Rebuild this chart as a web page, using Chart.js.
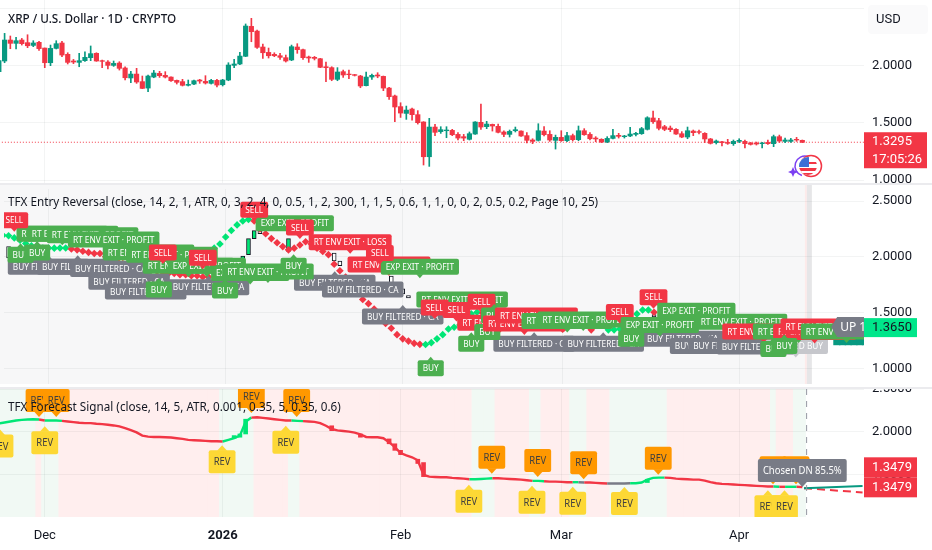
<!DOCTYPE html>
<html>
<head>
<meta charset="utf-8">
<title>XRP / U.S. Dollar</title>
<script src="https://cdn.jsdelivr.net/npm/chart.js@4/dist/chart.umd.min.js"></script>
<style>
    body { margin: 0; background: #ffffff; width: 932px; height: 550px; overflow: hidden; position: relative; }
    canvas { position: absolute; left: 0; }
    .sep { position: absolute; left: 0; width: 932px; height: 2px; background: #ebebee; }
</style>
</head>
<body>
<canvas id="pricePane" width="932" height="183" style="top:0"></canvas>
<div class="sep" style="top:183px"></div>
<canvas id="entryPane" width="932" height="203" style="top:185px"></canvas>
<div class="sep" style="top:387px"></div>
<canvas id="forecastPane" width="932" height="161" style="top:389px"></canvas>
<script>
/** Data, days are counted from 1 Dec 2025 **/

const monthDays = [0, 31, 62, 90, 121];
const monthNames = ["Dec", "2026", "Feb", "Mar", "Apr"];

const firstCandleDay = -8;
const candleOpen = [1.945,2.038,2.221,2.192,2.221,2.198,2.174,2.201,2.151,2.023,2.148,2.195,2.096,2.038,2.026,2.041,2.067,2.105,2.041,2.029,2.000,2.020,1.977,1.890,1.924,1.858,1.802,1.898,1.930,1.913,1.898,1.869,1.858,1.826,1.837,1.872,1.860,1.843,1.869,1.831,1.872,2.000,2.012,2.079,2.340,2.299,2.160,2.113,2.096,2.084,2.067,2.047,2.160,2.137,2.073,2.070,2.058,1.988,1.980,1.878,1.945,1.924,1.919,1.907,1.823,1.898,1.916,1.904,1.802,1.733,1.640,1.581,1.619,1.570,1.506,1.203,1.462,1.422,1.430,1.433,1.398,1.378,1.355,1.401,1.503,1.465,1.485,1.468,1.419,1.398,1.430,1.427,1.387,1.349,1.346,1.427,1.398,1.346,1.372,1.343,1.387,1.352,1.430,1.398,1.366,1.355,1.331,1.363,1.390,1.378,1.384,1.398,1.404,1.442,1.541,1.517,1.465,1.453,1.442,1.404,1.375,1.427,1.422,1.407,1.358,1.326,1.334,1.328,1.317,1.337,1.337,1.323,1.323,1.317,1.328,1.317,1.378,1.337,1.337,1.355,1.346];
const candleHigh = [2.061,2.279,2.256,2.244,2.235,2.267,2.215,2.209,2.151,2.177,2.215,2.209,2.110,2.052,2.105,2.119,2.169,2.110,2.047,2.041,2.038,2.032,1.988,1.948,1.974,1.907,1.916,1.956,1.948,1.945,1.901,1.872,1.878,1.872,1.872,1.878,1.910,1.878,1.878,1.878,2.023,2.052,2.113,2.361,2.410,2.308,2.186,2.151,2.110,2.105,2.090,2.177,2.189,2.143,2.081,2.078,2.061,2.029,1.988,1.980,1.959,1.959,1.922,1.913,1.942,1.924,1.936,1.907,1.808,1.741,1.674,1.645,1.628,1.605,1.509,1.538,1.485,1.465,1.465,1.442,1.413,1.398,1.419,1.509,1.663,1.512,1.488,1.488,1.430,1.436,1.462,1.430,1.413,1.360,1.491,1.465,1.430,1.392,1.430,1.416,1.401,1.471,1.448,1.413,1.378,1.360,1.378,1.442,1.407,1.390,1.459,1.416,1.459,1.552,1.602,1.538,1.477,1.471,1.448,1.422,1.462,1.436,1.436,1.413,1.363,1.349,1.337,1.355,1.349,1.360,1.349,1.328,1.331,1.328,1.349,1.392,1.392,1.366,1.363,1.372,1.349];
const candleLow = [1.942,2.023,2.145,2.143,2.177,2.154,2.163,2.131,1.980,1.997,2.143,2.076,2.012,2.015,1.988,2.035,2.041,2.035,1.980,1.968,1.991,1.959,1.872,1.849,1.843,1.797,1.770,1.892,1.895,1.890,1.860,1.837,1.820,1.820,1.831,1.843,1.837,1.837,1.811,1.820,1.866,1.980,2.006,2.076,2.206,2.148,2.061,2.064,2.076,2.052,2.029,2.041,2.105,2.052,2.026,2.047,1.980,1.858,1.866,1.866,1.895,1.884,1.907,1.805,1.820,1.878,1.892,1.779,1.703,1.509,1.546,1.529,1.523,1.488,1.131,1.119,1.387,1.407,1.369,1.387,1.349,1.343,1.349,1.398,1.442,1.448,1.427,1.410,1.378,1.375,1.419,1.381,1.323,1.317,1.340,1.384,1.337,1.270,1.337,1.334,1.340,1.343,1.390,1.349,1.334,1.326,1.326,1.358,1.366,1.366,1.378,1.384,1.398,1.436,1.494,1.436,1.430,1.422,1.398,1.369,1.360,1.387,1.401,1.326,1.314,1.314,1.297,1.311,1.302,1.326,1.279,1.305,1.305,1.279,1.311,1.291,1.328,1.326,1.328,1.337,1.326];
const candleClose = [2.041,2.221,2.192,2.215,2.189,2.171,2.195,2.146,2.023,2.148,2.189,2.090,2.026,2.029,2.041,2.070,2.102,2.038,2.035,2.000,2.017,1.974,1.892,1.924,1.855,1.799,1.907,1.933,1.910,1.898,1.866,1.852,1.826,1.834,1.866,1.863,1.846,1.869,1.828,1.872,2.003,2.012,2.081,2.343,2.294,2.157,2.110,2.084,2.084,2.070,2.038,2.163,2.137,2.067,2.064,2.061,1.983,1.980,1.878,1.942,1.916,1.919,1.913,1.820,1.898,1.913,1.907,1.802,1.727,1.637,1.584,1.610,1.570,1.500,1.203,1.462,1.416,1.439,1.436,1.395,1.366,1.366,1.404,1.506,1.462,1.488,1.471,1.416,1.398,1.424,1.439,1.384,1.346,1.337,1.430,1.395,1.349,1.372,1.343,1.387,1.352,1.430,1.395,1.360,1.358,1.331,1.363,1.387,1.381,1.384,1.401,1.407,1.448,1.543,1.509,1.451,1.442,1.439,1.401,1.375,1.430,1.413,1.416,1.358,1.320,1.340,1.326,1.320,1.337,1.346,1.317,1.311,1.314,1.323,1.317,1.378,1.340,1.349,1.349,1.349,1.329];
const lastPrice = 1.3295;
const priceCountdown = "17:05:26";

// signal markers in the middle pane
const trendDays = [-8,-7,-6,-5,-4,-3,-2,-1,0,1,2,3,4,5,6,7,8,9,10,11,12,13,14,15,16,17,18,19,20,21,22,23,24,25,26,27,28,29,30,31,32,33,34,35,36,37,38,39,40,41,42,43,44,45,46,47,48,49,50,51,52,53,54,55,56,57,58,59,60,61,62,63,64,65,66,67,68,69,70,71,72,73,74,75,76,77,78,80,85,90,95,98,99,100,101,102,103,104,105,106,110,115,120,125,130,132];
const trendValues = [2.193,2.19,2.17,2.15,2.12,2.10,2.08,2.08,2.08,2.078,2.08,2.08,2.07,2.063,2.05,2.04,2.03,2.03,2.0,1.98,1.96,1.94,1.93,1.92,1.90,1.89,1.88,1.87,1.86,1.85,1.85,1.84,1.84,1.83,1.83,1.82,1.82,2.078,2.115,2.178,2.236,2.287,2.322,2.336,2.322,2.25,2.207,2.164,2.126,2.092,2.063,2.078,2.106,2.135,2.115,2.078,2.049,2.02,1.934,1.876,1.819,1.747,1.675,1.618,1.58,1.532,1.474,1.402,1.359,1.302,1.264,1.244,1.224,1.215,1.213,1.23,1.264,1.302,1.353,1.368,1.388,1.445,1.488,1.503,1.494,1.46,1.445,1.43,1.373,1.35,1.345,1.345,1.345,1.353,1.388,1.431,1.488,1.523,1.523,1.503,1.46,1.402,1.359,1.345,1.345,1.345];
const trendRuns = [["u",12],["d",25],["u",7],["d",30],["u",10],["d",7],["u",8],["d",7]];

// candles that stick out from under the labels of the middle pane
const hollowDays = [-7,34,35,36,37,42,50,51,60,62,63,99,106];
const hollowOpen = [1.991,1.934,2.02,2.164,2.236,2.049,2.034,1.963,1.828,1.713,1.652,1.353,1.483];
const hollowClose = [2.092,2.006,2.164,2.236,2.207,2.164,1.963,1.92,1.718,1.667,1.632,1.345,1.46];
const hollowStates = ["d","u","u","u","d","u","d","d","d","d","d","d","d"];

const cloudDays = [137,138,139,140,141,142,143];
const cloudLow = [1.27,1.21,1.21,1.21,1.21,1.21,1.21];
const cloudHigh = [1.30,1.27,1.26,1.26,1.26,1.26,1.26];
const entryLastValue = 1.3650;

const exitProfit = "RT ENV EXIT \u00b7 PROFIT";
const exitExpiry = "EXP EXIT \u00b7 PROFIT";
const exitLoss = "RT ENV EXIT \u00b7 LOSS";
const filtered = "BUY FILTERED \u00b7 CA";

// labels of the middle pane, listed from the bottom layer to the top one
const labelDays = [0,5.1,10.9,14.1,17,28,50.1,55,62,85,97.1,111,115.9,119.1,124.1,130.8,
    2.4,4.2,7.7,11.4,17.5,21.6,24.5,27.7,35.3,38.4,43.1,52.8,59.6,65,
    -4.9,-2,19.3,30.9,42.9,66.9,
    -6,20,27,36,44,58,
    72.4,67.6,71.4,75.8,78.8,76.8,74,78,83.3,85.4,90.8,93.6,100,107,102,105.9,113.4,121.3,125.2,131.3,134.1,135.4,139.7,126.9,128.8];
const labelPrices = [1.911,1.911,1.891,1.776,1.69,1.727,1.767,1.707,1.465,1.221,1.221,1.264,1.201,1.201,1.195,1.201,
    2.207,2.207,2.193,2.155,2.04,2.02,1.92,1.92,1.856,1.868,2.302,2.132,1.931,1.911,
    2.02,2.04,1.707,1.698,1.92,1.0,
    2.328,2.04,1.991,2.422,2.264,2.034,
    1.618,1.546,1.523,1.598,1.408,1.325,1.221,1.474,1.402,1.474,1.425,1.437,1.506,1.388,1.264,1.638,1.517,1.417,1.33,1.33,1.325,1.374,1.33,1.172,1.201];
const labelTexts = [filtered,filtered,filtered,filtered,filtered,filtered,filtered,filtered,filtered,filtered,filtered,filtered,filtered,filtered,filtered,"FILTERED BUY",
    exitProfit,exitProfit,exitProfit,exitProfit,exitProfit,exitProfit,exitProfit,exitExpiry,exitExpiry,exitProfit,exitExpiry,exitLoss,exitLoss,exitExpiry,
    "BUY","BUY","BUY","BUY","BUY","BUY",
    "SELL","SELL","SELL","SELL","SELL","SELL",
    exitProfit,"SELL","SELL","SELL",exitLoss,"BUY","BUY","BUY",exitLoss,exitLoss,exitProfit,exitProfit,"SELL",exitExpiry,"BUY","SELL",exitExpiry,exitProfit,exitLoss,exitProfit,exitLoss,exitLoss,exitProfit,"BUY","BUY"];
const upDay = 137;
const upValue = 1.371;
const upText = "UP 100%";

// forecast pane
const forecastValues = [2.096,2.108,2.119,2.131,2.138,2.142,2.146,2.142,2.131,2.131,2.131,2.127,2.119,2.112,2.104,2.1,2.1,2.092,2.088,2.081,2.073,2.062,2.042,2.019,1.992,1.954,1.942,1.938,1.938,1.935,1.931,1.923,1.915,1.904,1.9,1.896,1.892,1.888,1.888,1.885,1.904,1.923,1.954,2.115,2.165,2.169,2.162,2.154,2.146,2.138,2.131,2.131,2.127,2.123,2.119,2.115,2.1,2.069,2.031,2.015,2.008,2.0,1.988,1.969,1.938,1.935,1.935,1.923,1.877,1.819,1.75,1.723,1.7,1.665,1.492,1.473,1.469,1.465,1.465,1.458,1.454,1.45,1.442,1.442,1.446,1.45,1.454,1.454,1.45,1.446,1.442,1.438,1.431,1.423,1.423,1.419,1.415,1.415,1.412,1.408,1.408,1.408,1.404,1.404,1.4,1.396,1.392,1.392,1.392,1.392,1.396,1.396,1.404,1.438,1.458,1.462,1.462,1.458,1.45,1.446,1.442,1.438,1.438,1.427,1.408,1.396,1.388,1.385,1.381,1.377,1.373,1.369,1.365,1.362,1.358,1.358,1.354,1.354,1.354,1.354,1.35];
const forecastRuns = [["u",7],["d",1],["u",3],["d",28],["u",5],["d",7],["u",2],["d",29],["u",4],["d",7],["u",2],["d",5],["u",1],["n",1],["d",4],["n",4],["u",6],["d",19],["u",1],["d",1],["u",2],["d",2]];
const stepDays = [33,34,35,50,55,60,61,62,65,66,105];
const stepFrom = [1.923,1.935,1.973,2.012,1.935,1.858,1.781,1.731,1.627,1.473,1.404];
const stepTo = [1.954,1.973,2.146,2.069,1.973,1.915,1.858,1.781,1.677,1.638,1.442];
const stepStates = ["u","u","u","d","d","d","d","d","d","d","u"];
const bandRuns = [["u",7],["d",1],["u",3],["d",28],["u",6],["d",6],["u",2],["d",30],["u",4],["d",6],["u",2],["d",5],["u",3],["d",4],["u",10],["d",18],["u",1],["d",3],["u",2]];
const projectionDays = [132.3, 142.5];
const projectionUp = [1.338, 1.362];
const projectionDown = [1.338, 1.288];
const forecastLastValue = 1.3479;

const orangeDays = [-1,2,36,43.9,77.9,85.9,93.9,106.9,126.9,130.9];
const orangePrices = [2.365,2.365,2.412,2.365,1.7,1.662,1.635,1.688,1.577,1.577];
const yellowDays = [-7.8,0,30.9,42,73.9,84.9,92,101,126,128.9];
const yellowPrices = [1.831,1.869,1.646,1.877,1.185,1.173,1.162,1.158,1.119,1.119];
const chosenDay = 132;
const chosenPrice = 1.546;
const chosenText = "Chosen DN 85.5%";

/** Colors **/

const red_color = "#f23645";
const teal_color = "#089981";
const mint_color = "#00e676";
const label_green = "#4caf50";
const label_grey = "#787b86";
const grid_color = "rgba(42, 46, 57, 0.055)";

const ui_font = '"Noto Sans"';
const axis_font = 'Roboto';

// the text of the reference is a bit narrower than the installed fonts
const narrow_text = 0.9;

/** Functions **/

function expand_runs(runs) {
    let states = [];
    runs.forEach(function(run) {
        for(let i = 0; i < run[1]; i++) states.push(run[0]);
    });
    return states;
}

const trendStates = expand_runs(trendRuns);
const forecastStates = expand_runs(forecastRuns);
const bandStates = expand_runs(bandRuns);

function candle_color(open, close) {
    return close >= open ? teal_color : red_color;
}

function state_color(state) {
    if(state === "u") return mint_color;
    if(state === "d") return red_color;
    return label_grey;
}

function label_color(text) {
    if(text === "SELL" || text === exitLoss) return red_color;
    if(text === filtered) return label_grey;
    if(text === "FILTERED BUY") return "#c6c7cc";
    return label_green;
}

function narrow_text_at(ctx, text, x, y) {
    ctx.save();
    ctx.translate(x, y);
    ctx.scale(narrow_text, 1);
    ctx.fillText(text, 0, 0);
    ctx.restore();
}

/**
 * Draw a filled box with its text, the tip goes "u"p or "d"own from the box.
 */
function draw_callout(ctx, cx, cy, text, color, text_color, font, box_h, tip, dir) {
    ctx.font = font;
    const w = ctx.measureText(text).width * narrow_text + 10;
    const x = cx - w / 2, y = cy - box_h / 2;
    ctx.fillStyle = color;
    ctx.beginPath();
    ctx.roundRect(x, y, w, box_h, 2);
    ctx.fill();
    ctx.beginPath();
    if(dir === "u") {
        ctx.moveTo(cx - tip, y + 0.5); ctx.lineTo(cx, y - tip); ctx.lineTo(cx + tip, y + 0.5);
    } else if(dir === "d") {
        ctx.moveTo(cx - tip, y + box_h - 0.5); ctx.lineTo(cx, y + box_h + tip); ctx.lineTo(cx + tip, y + box_h - 0.5);
    }
    ctx.fill();
    ctx.fillStyle = text_color;
    ctx.textAlign = "center";
    ctx.textBaseline = "middle";
    narrow_text_at(ctx, text, cx, cy + 0.5);
}

function draw_tag(ctx, y0, h, w, color, text_color, lines) {
    ctx.fillStyle = color;
    ctx.fillRect(864, y0, w, h);
    ctx.fillStyle = text_color;
    ctx.font = "13px " + axis_font;
    ctx.textAlign = "left";
    ctx.textBaseline = "middle";
    lines.forEach(function(line, i) {
        ctx.fillText(line, 872, y0 + (h / lines.length) * (i + 0.5) + 0.5);
    });
}

function draw_title(ctx, text, y, font) {
    ctx.font = font;
    ctx.fillStyle = "#131722";
    ctx.textAlign = "left";
    ctx.textBaseline = "middle";
    narrow_text_at(ctx, text, 8, y);
}

function clip_area(chart) {
    const a = chart.chartArea;
    chart.ctx.beginPath();
    chart.ctx.rect(a.left, a.top, a.right - a.left, a.bottom - a.top);
    chart.ctx.clip();
}

function draw_badge(ctx) {
    const cx = 808, cy = 166;
    ctx.strokeStyle = "#7b3ff2";
    ctx.lineWidth = 1.5;
    ctx.beginPath();
    ctx.arc(cx - 3, cy, 10, 0.6 * Math.PI, 1.6 * Math.PI);
    ctx.stroke();
    ctx.strokeStyle = red_color;
    ctx.lineWidth = 1.5;
    ctx.beginPath();
    ctx.arc(cx + 3, cy, 10.5, 0, 2 * Math.PI);
    ctx.stroke();
    ctx.fillStyle = "#ffffff";
    ctx.beginPath();
    ctx.arc(cx, cy, 9, 0, 2 * Math.PI);
    ctx.fill();
    ctx.save();
    ctx.beginPath();
    ctx.arc(cx, cy, 9, 0, 2 * Math.PI);
    ctx.clip();
    ctx.fillStyle = red_color;
    ctx.fillRect(cx - 9, cy + 2, 18, 3);
    ctx.fillRect(cx - 9, cy + 7, 18, 3);
    ctx.fillRect(cx, cy - 4, 9, 2);
    ctx.fillStyle = "#3b6fd6";
    ctx.fillRect(cx - 9, cy - 9, 10, 10);
    ctx.restore();
    ctx.fillStyle = "#7b3ff2";
    ctx.beginPath();
    ctx.moveTo(793, 167); ctx.lineTo(794.5, 170.5); ctx.lineTo(798, 172); ctx.lineTo(794.5, 173.5);
    ctx.lineTo(793, 177); ctx.lineTo(791.5, 173.5); ctx.lineTo(788, 172); ctx.lineTo(791.5, 170.5);
    ctx.closePath();
    ctx.fill();
}

function create_pane(id, datasets, y_min, y_max, y_ticks, overlays, show_time) {
    return new Chart(document.getElementById(id), {
        type: "bar",
        data: { datasets: datasets },
        options: {
            responsive: false,
            animation: false,
            parsing: { xAxisKey: "x", yAxisKey: "y" },
            layout: { padding: 0 },
            plugins: { legend: { display: false }, tooltip: { enabled: false } },
            scales: {
                x: {
                    type: "linear",
                    min: -7.8,
                    max: 142.75,
                    offset: false,
                    afterBuildTicks: function(scale) {
                        scale.ticks = monthDays.map(function(v) { return { value: v }; });
                    },
                    afterFit: function(scale) {
                        scale.height = show_time ? 33 : 0;
                        scale.paddingLeft = 0;
                        scale.paddingRight = 0;
                    },
                    grid: { color: grid_color, offset: false, drawTicks: false, z: 1 },
                    border: { display: false },
                    ticks: {
                        display: show_time,
                        autoSkip: false,
                        maxRotation: 0,
                        padding: 11,
                        color: "#131722",
                        font: function(c) {
                            return { family: axis_font, size: 13, weight: c.tick && c.tick.value === 31 ? "bold" : "normal" };
                        },
                        callback: function(v) { return monthNames[monthDays.indexOf(v)]; }
                    }
                },
                y: {
                    type: "linear",
                    position: "right",
                    min: y_min,
                    max: y_max,
                    afterBuildTicks: function(scale) {
                        scale.ticks = y_ticks.map(function(v) { return { value: v }; });
                    },
                    afterFit: function(scale) {
                        scale.width = 68;
                        scale.paddingTop = 0;
                        scale.paddingBottom = 0;
                    },
                    grid: { color: grid_color, drawTicks: false, z: 1 },
                    border: { display: false },
                    ticks: {
                        padding: 8,
                        color: "#131722",
                        font: { family: axis_font, size: 13 },
                        callback: function(v) {
                            return id === "pricePane" && v === 2.5 ? "" : v.toFixed(4);
                        }
                    }
                }
            }
        },
        plugins: [overlays]
    });
}

/** Top pane, candles **/

const candle_bodies = candleOpen.map(function(o, i) {
    return { x: firstCandleDay + i, y: [o, candleClose[i]] };
});
const candle_wicks = candleLow.map(function(l, i) {
    return { x: firstCandleDay + i, y: [l, candleHigh[i]] };
});
const candle_colors = candleOpen.map(function(o, i) { return candle_color(o, candleClose[i]); });

create_pane("pricePane", [
    {
        type: "line", data: [{ x: -8, y: lastPrice }, { x: 143, y: lastPrice }],
        borderColor: red_color, borderWidth: 1, borderDash: [1, 2], pointRadius: 0, order: 3
    },
    { data: candle_wicks, backgroundColor: candle_colors, barThickness: 1, grouped: false, order: 2 },
    { data: candle_bodies, backgroundColor: candle_colors, barThickness: 4.5, grouped: false, order: 1 }
], 0.974, 2.57, [1, 1.5, 2, 2.5], {
    id: "priceOverlay",
    afterDraw: function(chart) {
        const ctx = chart.ctx;
        const y = chart.scales.y.getPixelForValue(lastPrice);
        draw_title(ctx, "XRP / U.S. Dollar \u00b7 1D \u00b7 CRYPTO", 19, "500 13px " + ui_font);
        ctx.fillStyle = "#fafafb";
        ctx.beginPath();
        ctx.roundRect(868, 5, 60, 29, 4);
        ctx.fill();
        ctx.fillStyle = "#131722";
        ctx.font = "13px " + axis_font;
        ctx.textAlign = "left";
        ctx.textBaseline = "middle";
        ctx.fillText("USD", 876, 20);
        draw_tag(ctx, y - 10, 36, 63, red_color, "#ffffff", [lastPrice.toFixed(4), priceCountdown]);
        draw_badge(ctx);
    }
}, false);

/** Middle pane, entry labels **/

create_pane("entryPane", [
    {
        data: cloudDays.map(function(d, i) { return { x: d, y: [cloudLow[i], cloudHigh[i]] }; }),
        backgroundColor: teal_color, barThickness: 6.5, grouped: false, order: 3
    },
    {
        data: hollowDays.map(function(d, i) { return { x: d, y: [hollowOpen[i], hollowClose[i]] }; }),
        backgroundColor: hollowStates.map(function(s) { return s === "u" ? mint_color : "#ffffff"; }),
        borderColor: "#131722", borderWidth: 1, borderSkipped: false,
        barThickness: 4, grouped: false, order: 2
    },
    {
        type: "line", showLine: false,
        data: trendDays.map(function(d, i) { return { x: d, y: trendValues[i] }; }),
        pointStyle: "rectRot", pointRadius: 3.8, pointBorderWidth: 0,
        pointBackgroundColor: trendStates.map(state_color), order: 1
    }
], 0.859, 2.609, [1, 1.5, 2, 2.5], {
    id: "entryOverlay",
    beforeDraw: function(chart) {
        const ctx = chart.ctx, a = chart.chartArea;
        const end_x = chart.scales.x.getPixelForValue(132.4);
        ctx.fillStyle = "#f7f7f8";
        ctx.fillRect(0, 0, end_x, a.bottom);
        ctx.fillStyle = "#fdeaea";
        ctx.fillRect(end_x, 0, 2, a.bottom);
        ctx.fillStyle = "#e6e6e8";
        ctx.fillRect(end_x + 2, 0, 5, a.bottom);
    },
    afterDraw: function(chart) {
        const ctx = chart.ctx, x = chart.scales.x, y = chart.scales.y;
        ctx.save();
        clip_area(chart);
        const font = "9.2px " + ui_font;
        labelTexts.forEach(function(text, i) {
            const cx = x.getPixelForValue(labelDays[i]), cy = y.getPixelForValue(labelPrices[i]);
            let dir = "d";
            if(text === "BUY" || text === filtered) dir = "u";
            draw_callout(ctx, cx, cy, text, label_color(text), "#ffffff", font, 16, 3.5, dir);
        });

        // the last value label, cut by the price scale
        const ux = x.getPixelForValue(upDay), uy = y.getPixelForValue(upValue);
        ctx.fillStyle = label_grey;
        ctx.beginPath();
        ctx.moveTo(ux, uy);
        ctx.lineTo(ux + 6, uy - 10);
        ctx.lineTo(870, uy - 10);
        ctx.lineTo(870, uy + 10);
        ctx.lineTo(ux + 6, uy + 10);
        ctx.closePath();
        ctx.fill();
        ctx.fillStyle = "#ffffff";
        ctx.font = "12px " + ui_font;
        ctx.textAlign = "left";
        ctx.textBaseline = "middle";
        ctx.fillText(upText, ux + 9, uy + 0.5);
        ctx.restore();

        draw_title(ctx, "TFX Entry Reversal (close, 14, 2, 1, ATR, 0, 3, 2, 4, 0, 0.5, 1, 2, 300, 1, 1, 5, 0.6, 1, 1, 0, 0, 2, 0.5, 0.2, Page 10, 25)", 17, "13px " + ui_font);
        const tag_y = y.getPixelForValue(entryLastValue);
        draw_tag(ctx, tag_y - 9.5, 19, 53, "#00e68a", "#131722", [entryLastValue.toFixed(4)]);
    }
}, false);

/** Bottom pane, forecast **/

const forecast_points = forecastValues.map(function(v, i) { return { x: firstCandleDay + i, y: v }; });

create_pane("forecastPane", [
    {
        type: "line", data: projectionDays.map(function(d, i) { return { x: d, y: projectionUp[i] }; }),
        borderColor: teal_color, borderWidth: 2, pointRadius: 0, order: 2
    },
    {
        type: "line", data: projectionDays.map(function(d, i) { return { x: d, y: projectionDown[i] }; }),
        borderColor: red_color, borderWidth: 2, borderDash: [8, 5], pointRadius: 0, order: 2
    },
    {
        type: "line", data: forecast_points, pointRadius: 0, borderWidth: 2.4, borderColor: red_color,
        segment: { borderColor: function(c) { return state_color(forecastStates[c.p0DataIndex]); } },
        order: 3
    },
    {
        data: stepDays.map(function(d, i) { return { x: d, y: [stepFrom[i], stepTo[i]] }; }),
        backgroundColor: stepStates.map(state_color), barThickness: 4, grouped: false, order: 4
    },
    {
        data: bandStates.map(function(s, i) { return { x: firstCandleDay + i, y: [0.9, 2.6] }; }),
        backgroundColor: bandStates.map(function(s) { return s === "u" ? "#f1f9f4" : "#ffeeee"; }),
        barThickness: 6.5, grouped: false, order: 9
    }
], 1.0, 2.5, [1.5, 2, 2.5], {
    id: "forecastOverlay",
    afterDraw: function(chart) {
        const ctx = chart.ctx, x = chart.scales.x, y = chart.scales.y;
        const a = chart.chartArea;
        const font = "10.5px " + ui_font;

        ctx.save();
        const dash_x = x.getPixelForValue(132.75);
        ctx.strokeStyle = "#9598a1";
        ctx.setLineDash([6, 6]);
        ctx.beginPath();
        ctx.moveTo(dash_x, a.top);
        ctx.lineTo(dash_x, a.bottom);
        ctx.stroke();
        ctx.restore();

        ctx.save();
        clip_area(chart);
        yellowDays.forEach(function(d, i) {
            draw_callout(ctx, x.getPixelForValue(d), y.getPixelForValue(yellowPrices[i]), "REV", "#fdd835", "#3f3f3f", font, 23, 5, "u");
        });
        orangeDays.forEach(function(d, i) {
            draw_callout(ctx, x.getPixelForValue(d), y.getPixelForValue(orangePrices[i]), "REV", "#ff9800", "#3f3f3f", font, 23, 5, "d");
        });
        draw_callout(ctx, x.getPixelForValue(chosenDay), y.getPixelForValue(chosenPrice), chosenText, label_grey, "#ffffff", font, 23, 5, "d");
        ctx.restore();

        draw_title(ctx, "TFX Forecast Signal (close, 14, 5, ATR, 0.001, 0.35, 5, 0.35, 0.6)", 18, "13px " + ui_font);
        const tag_y = y.getPixelForValue(forecastLastValue);
        draw_tag(ctx, tag_y - 30, 20, 53, red_color, "#ffffff", [forecastLastValue.toFixed(4)]);
        draw_tag(ctx, tag_y - 10, 20, 53, red_color, "#ffffff", [forecastLastValue.toFixed(4)]);
    }
}, true);
</script>
</body>
</html>
